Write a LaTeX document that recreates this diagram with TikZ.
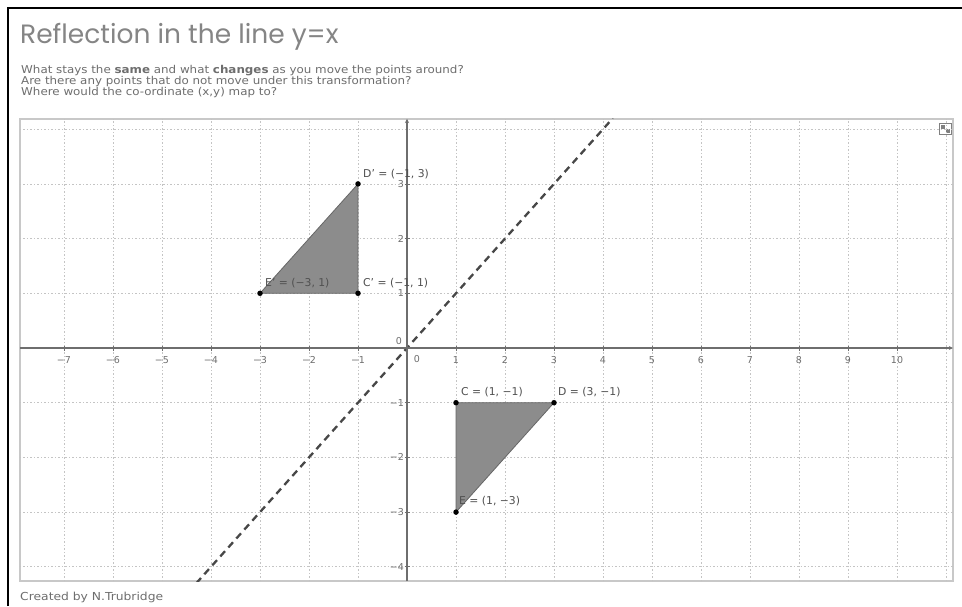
\documentclass[tikz,border=0pt]{standalone}
\usepackage{fontspec}
\setmainfont{DejaVu Sans}
\newfontfamily\titlefont{Poppins}
\usetikzlibrary{arrows.meta}
\definecolor{titlegray}{HTML}{858585}
\definecolor{txtgray}{HTML}{6E6E6E}
\definecolor{labgray}{HTML}{505050}
\definecolor{axisgray}{HTML}{6E6E6E}
\definecolor{gridgray}{HTML}{C4C4C4}
\definecolor{framegray}{HTML}{C8C8C8}
\definecolor{trifill}{HTML}{8C8C8C}
\definecolor{triedge}{HTML}{666666}
\definecolor{lingray}{HTML}{474747}
\tikzset{
  subline/.style={anchor=west, inner sep=0pt, text=txtgray, xscale=1.1, font=\fontsize{10.8}{12}\selectfont},
  gridline/.style={draw=gridgray, line width=0.7pt, dash pattern=on 1.5pt off 2pt},
  axisline/.style={draw=axisgray, line width=1.1pt},
  ticklab/.style={inner sep=0pt, text=axisgray, font=\fontsize{9.5}{10}\selectfont},
  ptdot/.style={circle, fill=black, inner sep=0pt, minimum size=5.5pt},
  ptlab/.style={anchor=west, inner sep=0pt, text=labgray, font=\fontsize{10.8}{12}\selectfont},
  trishape/.style={fill=trifill, draw=triedge, line width=0.8pt, line join=round},
  reflline/.style={draw=lingray, line width=2.3pt, dash pattern=on 7pt off 5pt}
}
\begin{document}
\begin{tikzpicture}[x=1pt,y=-1pt]
\fill[white] (0,0) rectangle (962,606);
\useasboundingbox (0,0) rectangle (962,606);
% outer border
\draw[black, line width=2pt] (8,606) -- (8,8) -- (962,8);
% title and questions
\node[anchor=west, inner sep=0pt, text=titlegray, font=\titlefont\fontsize{26.5}{30}\selectfont] (title) at (20,37) {Reflection in the line y=x};
\node[subline] (q1) at (21,71) {What stays the \textbf{same} and what \textbf{changes} as you move the points around?};
\node[subline] (q2) at (21,82) {Are there any points that do not move under this transformation?};
\node[subline] (q3) at (21,92.5) {Where would the co-ordinate (x,y) map to?};
\node[anchor=west, inner sep=0pt, text=txtgray, xscale=1.12, font=\fontsize{11}{12}\selectfont] (credit) at (20,597) {Created by N.Trubridge};
% graph frame
\draw[framegray, line width=1.2pt] (20,119) rectangle (953,581);
% style bar icon
\draw[gray, line width=0.8pt] (939,123) rectangle (951,134);
\fill[gray] (941,125) rectangle (945,129);
\fill[gray] (946,129) rectangle (950,133);
\begin{scope}[shift={(407,348)}, x=49pt, y=54.7pt]
  \begin{scope}
    \clip (-7.898,-4.26) rectangle (11.14,4.187);
    \foreach \i in {-7,...,11} \draw[gridline] (\i,-4.26) -- (\i,4.187);
    \foreach \j in {-4,...,4} \draw[gridline] (-7.898,\j) -- (11.14,\j);
    \coordinate (L1) at (-4.3,-4.3);
    \coordinate (L2) at (4.2,4.2);
    \draw[reflline] (L1) -- (L2);
  \end{scope}
  % axes
  \coordinate (xa) at (-7.898,0);
  \coordinate (xb) at (11.14,0);
  \coordinate (ya) at (0,-4.26);
  \coordinate (yb) at (0,4.187);
  \draw[axisline, -{Stealth[length=4pt,width=4pt]}] (xa) -- (xb);
  \draw[axisline, -{Stealth[length=4pt,width=4pt]}] (ya) -- (yb);
  \foreach \i/\t in {-7/−7,-6/−6,-5/−5,-4/−4,-3/−3,-2/−2,-1/−1,1/1,2/2,3/3,4/4,5/5,6/6,7/7,8/8,9/9,10/10} {
    \draw[axisgray, line width=0.8pt] (\i,0) ++(0,2.5pt) -- ++(0,-5pt);
    \node[ticklab] at ([yshift=-12pt]\i,0) {\t};
  }
  \foreach \j/\t in {-4/−4,-3/−3,-2/−2,-1/−1,1/1,2/2,3/3} {
    \draw[axisgray, line width=0.8pt] (0,\j) ++(-2.5pt,0) -- ++(5pt,0);
    \node[ticklab, anchor=east] at ([xshift=-3pt]0,\j) {\t};
  }
  \node[ticklab] (zx) at ([shift={(10pt,-11pt)}]0,0) {0};
  \node[ticklab] (zy) at ([shift={(-8pt,7pt)}]0,0) {0};
  % reflected triangle
  \coordinate (Cp) at (-1,1);
  \coordinate (Dp) at (-1,3);
  \coordinate (Ep) at (-3,1);
  \path[trishape] (Cp) -- (Dp) -- (Ep) -- cycle;
  % original triangle
  \coordinate (C) at (1,-1);
  \coordinate (D) at (3,-1);
  \coordinate (E) at (1,-3);
  \path[trishape] (C) -- (D) -- (E) -- cycle;
  \foreach \p in {Cp,Dp,Ep,C,D,E} \node[ptdot] (\p dot) at (\p) {};
  \node[ptlab] (Dplab) at ([shift={(5pt,10pt)}]Dp) {D' = (−1, 3)};
  \node[ptlab] (Cplab) at ([shift={(5pt,10pt)}]Cp) {C' = (−1, 1)};
  \node[ptlab] (Eplab) at ([shift={(5pt,10pt)}]Ep) {E' = (−3, 1)};
  \node[ptlab] (Clab) at ([shift={(5pt,11pt)}]C) {C = (1, −1)};
  \node[ptlab] (Dlab) at ([shift={(4pt,11pt)}]D) {D = (3, −1)};
  \node[ptlab] (Elab) at ([shift={(3pt,11pt)}]E) {E = (1, −3)};
\end{scope}
\end{tikzpicture}
\end{document}
